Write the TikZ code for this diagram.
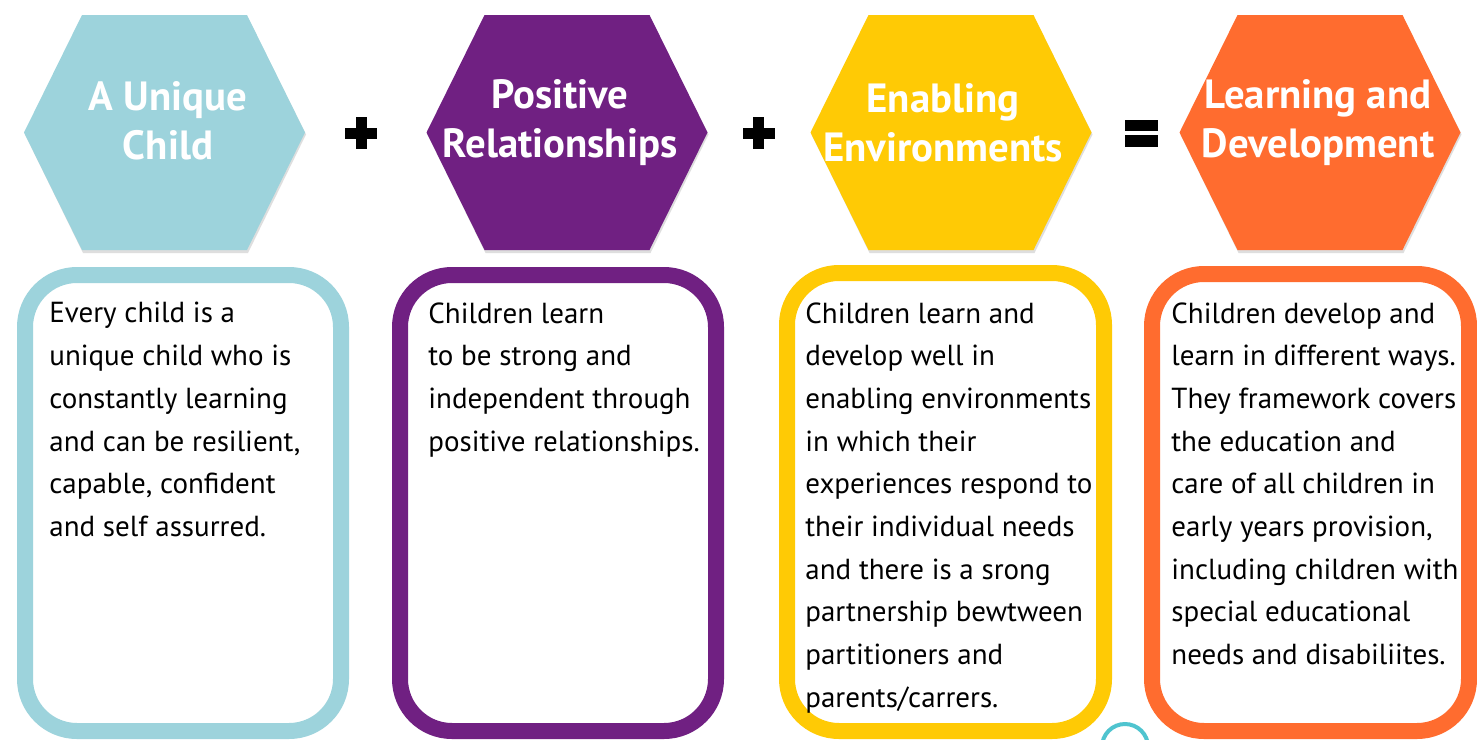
\documentclass[tikz,border=0pt]{standalone}
\usepackage{fontspec}
\setmainfont{PT Sans}
\usetikzlibrary{positioning}
\definecolor{uniqueBlue}{HTML}{9DD3DC}
\definecolor{relPurple}{HTML}{702082}
\definecolor{envYellow}{HTML}{FFCA05}
\definecolor{devOrange}{HTML}{FF6C2F}
\definecolor{doodleCyan}{HTML}{4FC4CF}

\tikzset{
  hexlabel/.style={text=white, align=center, inner sep=0pt,
    font=\fontsize{20.4}{24.5}\selectfont\bfseries},
  cardframe/.style={line width=8pt, rounded corners=26pt, fill=white},
  cardtext/.style={anchor=north west, align=left, inner sep=0pt,
    font=\fontsize{14.5}{21.35}\selectfont},
}

\begin{document}
\begin{tikzpicture}[x=0.5pt, y=-0.5pt]
    \clip (0,0) rectangle (1477,739);
    \fill[white] (0,0) rectangle (1477,739);

    % hexagons
    \foreach \cx/\col in {164.5/uniqueBlue, 567/relPurple, 951/envYellow, 1320/devOrange} {
      \fill[black!25, opacity=.5] ({\cx-139.5},134.5) -- ({\cx-81.5},18) -- ({\cx+83.5},18) -- ({\cx+141.5},134.5) -- ({\cx+83.5},253) -- ({\cx-81.5},253) -- cycle;
      \fill[\col] ({\cx-140.5},132.5) -- ({\cx-82.5},15) -- ({\cx+82.5},15) -- ({\cx+140.5},132.5) -- ({\cx+82.5},250) -- ({\cx-82.5},250) -- cycle;
    }
    \node[hexlabel] (unique) at (168,121) {A Unique\\Child};
    \node[hexlabel] (relations) at (560,123) {Positive\\Relationships};
    \node[hexlabel] (environs) at (943,123) {Enabling\\Environments};
    \node[hexlabel] (learning) at (1318,123) {Learning and\\Development};

    % plus and equals signs
    \coordinate (plusA) at (361,133);
    \coordinate (plusB) at (758.5,133);
    \coordinate (equal) at (1141.5,133);
    \foreach \p in {plusA, plusB} {
      \fill ([xshift=-8pt, yshift=-2.75pt]\p) rectangle ([xshift=8pt, yshift=2.75pt]\p);
      \fill ([xshift=-2.75pt, yshift=-8pt]\p) rectangle ([xshift=2.75pt, yshift=8pt]\p);
    }
    \fill ([xshift=-8.25pt, yshift=1pt]equal) rectangle ([xshift=8.25pt, yshift=6.75pt]equal);
    \fill ([xshift=-8.25pt, yshift=-0.75pt]equal) rectangle ([xshift=8.25pt, yshift=-7pt]equal);

    % cards
    \draw[cardframe, draw=uniqueBlue] (25,275) rectangle (341,731);
    \draw[cardframe, draw=relPurple] (400,275) rectangle (716,731);
    \draw[cardframe, draw=envYellow] (787,273) rectangle (1104,731);
    \draw[cardframe, draw=devOrange] (1152,274) rectangle (1469,731);

    \node[cardtext] (uniqueText) at (49,302) {Every child is a\\unique child who is\\constantly learning\\and can be resilient,\\capable, confident\\and self assurred.};
    \node[cardtext] (relationsText) at (428,302) {Children learn\\to be strong and\\independent through\\positive relationships.};
    \node[cardtext] (environsText) at (805,302) {Children learn and\\develop well in\\enabling environments\\in which their\\experiences respond to\\their individual needs\\and there is a srong\\partnership bewtween\\partitioners and\\parents/carrers.};
    \node[cardtext] (learningText) at (1171,302) {Children develop and\\learn in different ways.\\They framework covers\\the education and\\care of all children in\\early years provision,\\including children with\\special educational\\needs and disabiliites.};

    \draw[doodleCyan, line width=2pt] (1125,747) circle (23);
\end{tikzpicture}
\end{document}
